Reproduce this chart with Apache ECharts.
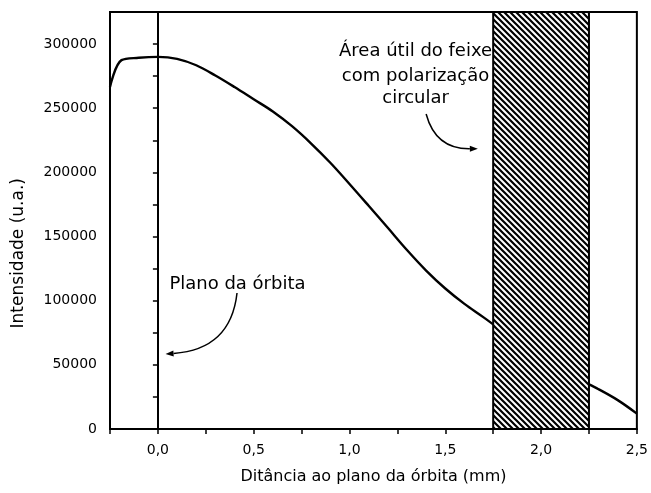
<!DOCTYPE html>
<html><head><meta charset="utf-8">
<script src="https://cdn.jsdelivr.net/npm/echarts@6/dist/echarts.min.js"></script>
<style>html,body{margin:0;padding:0;background:#fff}#c{width:651px;height:493px}</style>
</head><body><div id="c"></div>
<script>
// ---- data ----
const distances   = [-0.25, -0.19, -0.1, 0, 0.1, 0.2, 0.3, 0.4, 0.5, 0.6, 0.7, 0.8, 0.9, 1.0, 1.1, 1.2, 1.3, 1.4, 1.5, 1.6, 1.7, 1.8, 1.9, 2.0, 2.1, 2.2, 2.3, 2.4, 2.5];
const intensities = [266500, 287500, 289300, 290000, 288500, 283500, 275500, 266500, 257000, 247500, 236000, 222500, 207500, 191000, 174000, 156800, 139500, 123500, 109500, 97500, 87000, 76000, 65000, 55000, 46500, 38500, 31000, 22500, 12000];
const hatchRange = [1.75, 2.25];
const orbitPlaneX = 0;
const xRange = [-0.25, 2.5];
const yRange = [0, 325000];
const xLabelStep = 0.5;
const yLabelStep = 50000;
const orbitLabel = 'Plano da órbita';
const areaLabel = ['Área útil do feixe', 'com polarização', 'circular'];
const xTitle = 'Ditância ao plano da órbita (mm)';
const yTitle = 'Intensidade (u.a.)';

const FONT = '"DejaVu Sans", "Liberation Sans", Arial, sans-serif';

// hatch pattern
const pc = document.createElement('canvas');
pc.width = 6; pc.height = 6;
const g = pc.getContext('2d');
g.fillStyle = '#fff'; g.fillRect(0,0,6,6);
g.strokeStyle = '#000'; g.lineWidth = 2.2;
g.beginPath();
g.moveTo(-1,-1); g.lineTo(7,7);
g.moveTo(-4,2); g.lineTo(4,10);
g.moveTo(2,-4); g.lineTo(10,4);
g.stroke();

const chart = echarts.init(document.getElementById('c'), null, {renderer:'canvas'});
const isMult = (v, s) => Math.abs(v / s - Math.round(v / s)) < 1e-6;

chart.setOption({
  animation: false,
  backgroundColor: '#fff',
  grid: { left: 110, right: 14, top: 12, bottom: 64, show: true, borderColor: '#000', borderWidth: 2, backgroundColor: 'transparent' },
  xAxis: {
    type: 'value', min: xRange[0], max: xRange[1], interval: 0.25,
    name: xTitle, nameLocation: 'middle', nameGap: 40,
    nameTextStyle: { color: '#000', fontSize: 16, fontFamily: FONT },
    axisLine: { show: true, lineStyle: { color: '#000', width: 2 } },
    axisTick: { show: true, inside: false, length: 5, lineStyle: { color: '#000', width: 1.5 } },
    axisLabel: { color: '#000', fontSize: 14, fontFamily: FONT, margin: 14,
      formatter: v => (v >= -1e-9 && isMult(v, xLabelStep)) ? v.toFixed(1).replace('.', ',') : '' },
    splitLine: { show: false }
  },
  yAxis: {
    type: 'value', min: yRange[0], max: yRange[1], interval: 25000,
    axisLine: { show: true, lineStyle: { color: '#000', width: 2 } },
    axisTick: { show: true, inside: false, length: 5, lineStyle: { color: '#000', width: 1.5 } },
    axisLabel: { color: '#000', fontSize: 14, fontFamily: FONT, margin: 13,
      formatter: v => (v < yRange[1] && isMult(v, yLabelStep)) ? String(v) : '' },
    splitLine: { show: false }
  },
  series: [
    {
      type: 'line', z: 2,
      data: distances.map((x, i) => [x, intensities[i]]),
      showSymbol: false, smooth: 0.35,
      lineStyle: { color: '#000', width: 2.4 },
      markLine: {
        silent: true, symbol: ['none', 'none'], label: { show: false },
        lineStyle: { color: '#000', width: 2, type: 'solid' },
        data: [{ xAxis: orbitPlaneX }]
      }
    },
    {
      type: 'line', z: 5, data: [],
      markArea: {
        silent: true, z: 10, label: { show: false },
        itemStyle: { color: { image: pc, repeat: 'repeat' }, borderColor: '#000', borderWidth: 2, opacity: 1 },
        data: [[{ xAxis: hatchRange[0] }, { xAxis: hatchRange[1] }]]
      }
    }
  ]
});

function P(x, y) { return chart.convertToPixel({ gridIndex: 0 }, [x, y]); }
function arrow(s, c, e) {
  const a = Math.atan2(e[1] - c[1], e[0] - c[0]);
  const L = 8, W = 3;
  const bx = e[0] - L * Math.cos(a), by = e[1] - L * Math.sin(a);
  const nx = -Math.sin(a) * W, ny = Math.cos(a) * W;
  return [
    { type: 'bezierCurve', z: 10, shape: { x1: s[0], y1: s[1], cpx1: c[0], cpy1: c[1], x2: bx, y2: by },
      style: { stroke: '#000', lineWidth: 1.5, fill: null } },
    { type: 'polygon', z: 10, shape: { points: [[e[0], e[1]], [bx + nx, by + ny], [bx - nx, by - ny]] },
      style: { fill: '#000' } }
  ];
}
const tp = P(0.06, 112500);
const a1 = arrow(P(0.413, 106000), P(0.38, 62000), P(0.04, 58500));
const lineYs = [294000, 274500, 257500];
const areaTexts = areaLabel.map((t, i) => {
  const p = P(1.345, lineYs[i]);
  return { type: 'text', z: 10, x: p[0], y: p[1],
    style: { text: t, fill: '#000', font: '18px ' + FONT, textAlign: 'center', textVerticalAlign: 'middle' } };
});
const a2 = arrow(P(1.4, 245500), P(1.45, 218000), P(1.67, 218500));
const yt = P(xRange[0], 137000);
chart.setOption({
  graphic: [
    { type: 'text', z: 10, x: tp[0], y: tp[1],
      style: { text: orbitLabel, fill: '#000', font: '18px ' + FONT, textAlign: 'left', textVerticalAlign: 'middle' } },
    ...a1, ...areaTexts, ...a2,
    { type: 'text', z: 10, x: 19, y: yt[1], rotation: Math.PI / 2,
      style: { text: yTitle, fill: '#000', font: '17px ' + FONT, textAlign: 'center', textVerticalAlign: 'middle' } }
  ]
});
</script>
</body></html>
